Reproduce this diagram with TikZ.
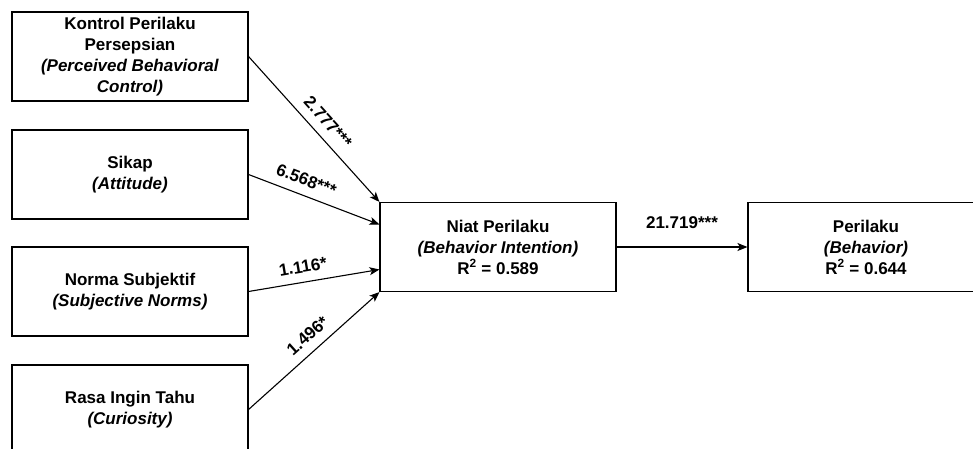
\documentclass[tikz,border=0pt]{standalone}
\usepackage{fontspec}
\setmainfont{Liberation Sans}
\usetikzlibrary{arrows.meta}

\begin{document}
\begin{tikzpicture}[x=1pt,y=-1pt,
    varbox/.style={draw,line width=1.1pt,minimum width=236pt,minimum height=89pt,
        align=center,inner sep=0pt,font=\fontsize{17}{21}\selectfont\bfseries},
    link/.style={line width=1.1pt,-{Stealth[length=10pt,width=8pt,inset=2.5pt]}},
    coef/.style={sloped,above=7pt,inner sep=2pt,font=\fontsize{17}{20}\selectfont\bfseries}]
\clip (0,0) rectangle (973,448);
%
\node[varbox] (pbc) at (130,56.5) {Kontrol Perilaku\\Persepsian\\\textit{(Perceived Behavioral}\\\textit{Control)}};
\node[varbox] (sikap) at (130,174.5) {Sikap\\\textit{(Attitude)}};
\node[varbox] (norma) at (130,291.5) {Norma Subjektif\\\textit{(Subjective Norms)}};
\node[varbox] (rasa) at (130,409.5) {Rasa Ingin Tahu\\\textit{(Curiosity)}};
%
\node[varbox] (niat) at (498,247) {Niat Perilaku\\\textit{(Behavior Intention)}\\R\textsuperscript{2} = 0.589};
\node[varbox] (perilaku) at (866,247) {Perilaku\\\textit{(Behavior)}\\R\textsuperscript{2} = 0.644};
%
\draw[link] (pbc.east) -- (niat.north west) node[coef,pos=.52] {2.777***};
\draw[link] (sikap.east) -- ([yshift=22.5pt]niat.west) node[coef,pos=.40] {6.568***};
\draw[link] (norma.east) -- ([yshift=-22.5pt]niat.west) node[coef,pos=.435] {1.116*};
\draw[link] (rasa.east) -- (niat.south west) node[coef,pos=.53] {1.496*};
%
\draw[link] (niat.east) -- (perilaku.west) node[coef,pos=.5,above=8.5pt] {21.719***};
\end{tikzpicture}
\end{document}
